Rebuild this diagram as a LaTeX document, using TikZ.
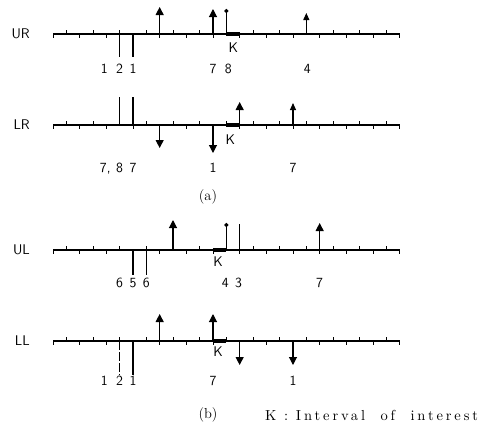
\documentclass[tikz,border=0pt]{standalone}
\usepackage{fontspec}
\newfontfamily\keyfont[LetterSpace=20]{lmroman10-regular.otf}
\usetikzlibrary{positioning,arrows.meta}

\tikzset{
  axisln/.style={line width=1.1pt},
  tickln/.style={line width=0.8pt},
  stem/.style={line width=1.1pt},
  upar/.style={stem,-{Triangle[width=8pt,length=8pt]}},
  smallar/.style={stem,-{Triangle[width=6pt,length=7pt]}},
  dotstem/.style={stem,-{Circle[length=4pt]}},
  kbar/.style={line width=3.5pt},
  lbl/.style={font=\sffamily\fontsize{14}{16}\selectfont, inner sep=0pt},
  capt/.style={font=\fontsize{14.5}{17}\selectfont, inner sep=0pt},
}

\newcommand{\tickrow}[2]{%
  \draw[axisln] (53,#2) -- (400,#2);
  \foreach \i in {0,...,26}{\coordinate (#1-\i) at ({53+13.333*\i},#2);}
  \foreach \i in {1,3,...,25}{\draw[tickln] (#1-\i) -- ++(0,-4);}
  \foreach \i in {0,2,...,26}{\draw[tickln] (#1-\i) -- ++(0,4);}
}

\begin{document}
\begin{tikzpicture}[x=1pt,y=-1pt]
\useasboundingbox (0,0) rectangle (485,429);

\tickrow{ur}{34}
\node[lbl, left=23pt of ur-0] (UR) {UR};
\draw[kbar] (ur-13) -- (ur-14);
\draw[stem] (ur-5) -- ++(0,23);  \draw[stem] (ur-6) -- ++(0,23);
\draw[upar] (ur-8) -- ++(0,-27);  \draw[upar] (ur-12) -- ++(0,-25);
\draw[dotstem] (ur-13) -- ++(0,-25);  \draw[smallar] (ur-19) -- ++(0,-21);
\node[lbl, below=9pt of ur-13, xshift=7pt] (ur-k) {K};
\node[lbl, below=30pt of ur-4, xshift=-2pt] (ur-n1) {1};
\node[lbl, below=30pt of ur-5] (ur-n2) {2};
\node[lbl, below=30pt of ur-6] (ur-n3) {1};
\node[lbl, below=30pt of ur-12] (ur-n4) {7};
\node[lbl, below=30pt of ur-13, xshift=2pt] (ur-n5) {8};
\node[lbl, below=30pt of ur-19, xshift=1pt] (ur-n6) {4};

\tickrow{lr}{125}
\node[lbl, left=23pt of lr-0] (LR) {LR};
\draw[kbar] (lr-13) -- (lr-14);
\draw[stem] (lr-5) -- ++(0,-28);  \draw[stem] (lr-6) -- ++(0,-28);
\draw[upar] (lr-8) -- ++(0,23);  \draw[upar] (lr-12) -- ++(0,28);
\draw[upar] (lr-14) -- ++(0,-23);  \draw[smallar] (lr-18) -- ++(0,-22);
\node[lbl, below=10pt of lr-13, xshift=4pt] (lr-k) {K};
\node[lbl, below=38pt of lr-4, xshift=-1pt] (lr-n1) {7,};
\node[lbl, below=38pt of lr-5] (lr-n2) {8};
\node[lbl, below=38pt of lr-6] (lr-n3) {7};
\node[lbl, below=38pt of lr-12] (lr-n4) {1};
\node[lbl, below=38pt of lr-18] (lr-n5) {7};

\node[capt] (a) at (208,197) {(a)};

\tickrow{ul}{250}
\node[lbl, left=23pt of ul-0] (UL) {UL};
\draw[kbar] (ul-12) -- (ul-13);
\draw[stem] (ul-6) -- ++(0,25);  \draw[stem] (ul-7) -- ++(0,25);
\draw[upar] (ul-9) -- ++(0,-30);  \draw[dotstem] (ul-13) -- ++(0,-27);
\draw[stem] (ul-14) -- ++(0,-26);  \draw[upar] (ul-20) -- ++(0,-27);
\node[lbl, below=7pt of ul-12, xshift=5pt] (ul-k) {K};
\node[lbl, below=28pt of ul-5] (ul-n1) {6};
\node[lbl, below=28pt of ul-6] (ul-n2) {5};
\node[lbl, below=28pt of ul-7] (ul-n3) {6};
\node[lbl, below=28pt of ul-13, xshift=-1pt] (ul-n4) {4};
\node[lbl, below=28pt of ul-14, xshift=-1pt] (ul-n5) {3};
\node[lbl, below=28pt of ul-20] (ul-n6) {7};

\tickrow{ll}{341}
\node[lbl, left=23pt of ll-0] (LL) {LL};
\draw[kbar] (ll-12) -- (ll-13);
\draw[stem, dash pattern=on 9pt off 2pt] (ll-5) -- ++(0,34);  \draw[stem] (ll-6) -- ++(0,34);
\draw[upar] (ll-8) -- ++(0,-27);  \draw[upar] (ll-12) -- ++(0,-27);
\draw[upar] (ll-14) -- ++(0,24);  \draw[upar] (ll-18) -- ++(0,24);
\node[lbl, below=6pt of ll-12, xshift=5pt] (ll-k) {K};
\node[lbl, below=35pt of ll-4, xshift=-2pt] (ll-n1) {1};
\node[lbl, below=35pt of ll-5] (ll-n2) {2};
\node[lbl, below=35pt of ll-6] (ll-n3) {1};
\node[lbl, below=35pt of ll-12] (ll-n4) {7};
\node[lbl, below=35pt of ll-18] (ll-n5) {1};

\node[capt] (b) at (208,415) {(b)};
\node[capt, anchor=west] (key) at (265,415) {\keyfont K : Interval\ \ of\ \ interest};
\end{tikzpicture}
\end{document}
